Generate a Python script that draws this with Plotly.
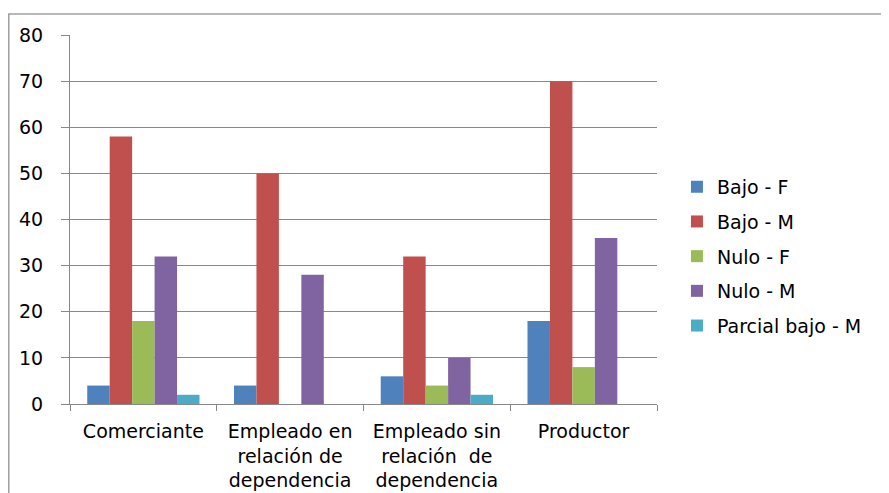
import plotly.graph_objects as go

categories = [
    "Comerciante",
    "Empleado en<br>relación de<br>dependencia",
    "Empleado sin<br>relación  de<br>dependencia",
    "Productor",
]
series_names = ["Bajo - F", "Bajo - M", "Nulo - F", "Nulo - M", "Parcial bajo - M"]
bajo_f = [4, 4, 6, 18]
bajo_m = [58, 50, 32, 70]
nulo_f = [18, 0, 4, 8]
nulo_m = [32, 28, 10, 36]
parcial_bajo_m = [2, 0, 2, 0]
colors = ["#4F81BD", "#C0504D", "#9BBB59", "#8064A2", "#4BACC6"]

font = dict(family="DejaVu Sans", size=19, color="#000000")

fig = go.Figure()
for name, vals, col in zip(series_names, [bajo_f, bajo_m, nulo_f, nulo_m, parcial_bajo_m], colors):
    fig.add_trace(go.Bar(x=categories, y=vals, name=name, marker_color=col,
                         marker_line_width=0, legendgroup=name))

# page body has an 8px margin, so the margins are shifted to compensate
fig.update_layout(
    width=889, height=493,
    margin=dict(l=62, r=240, t=27, b=97, autoexpand=False),
    paper_bgcolor="white", plot_bgcolor="white",
    barmode="group", bargap=0.235, bargroupgap=0,
    font=font,
    showlegend=True,
    legend=dict(x=1.034, y=0.40, yanchor="middle", xanchor="left",
                tracegroupgap=7, font=font, itemwidth=30),
    xaxis=dict(showline=True, linecolor="#888888", linewidth=1,
               ticks="outside", tickson="boundaries", ticklen=6, tickcolor="#888888",
               showgrid=False, tickfont=font, ticklabelstandoff=10),
    yaxis=dict(range=[0, 80], dtick=10, showline=True, linecolor="#888888", linewidth=1,
               ticks="outside", ticklen=8, tickcolor="#888888",
               showgrid=True, gridcolor="#888888", gridwidth=1,
               zeroline=False, tickfont=font, ticklabelstandoff=14),
    shapes=[dict(type="rect", xref="paper", yref="paper",
                 x0=-0.1043, x1=1.6, y0=-0.4, y1=1.057,
                 line=dict(color="#A0A0A0", width=1.5), layer="below")],
)

fig.write_html("out.html")
